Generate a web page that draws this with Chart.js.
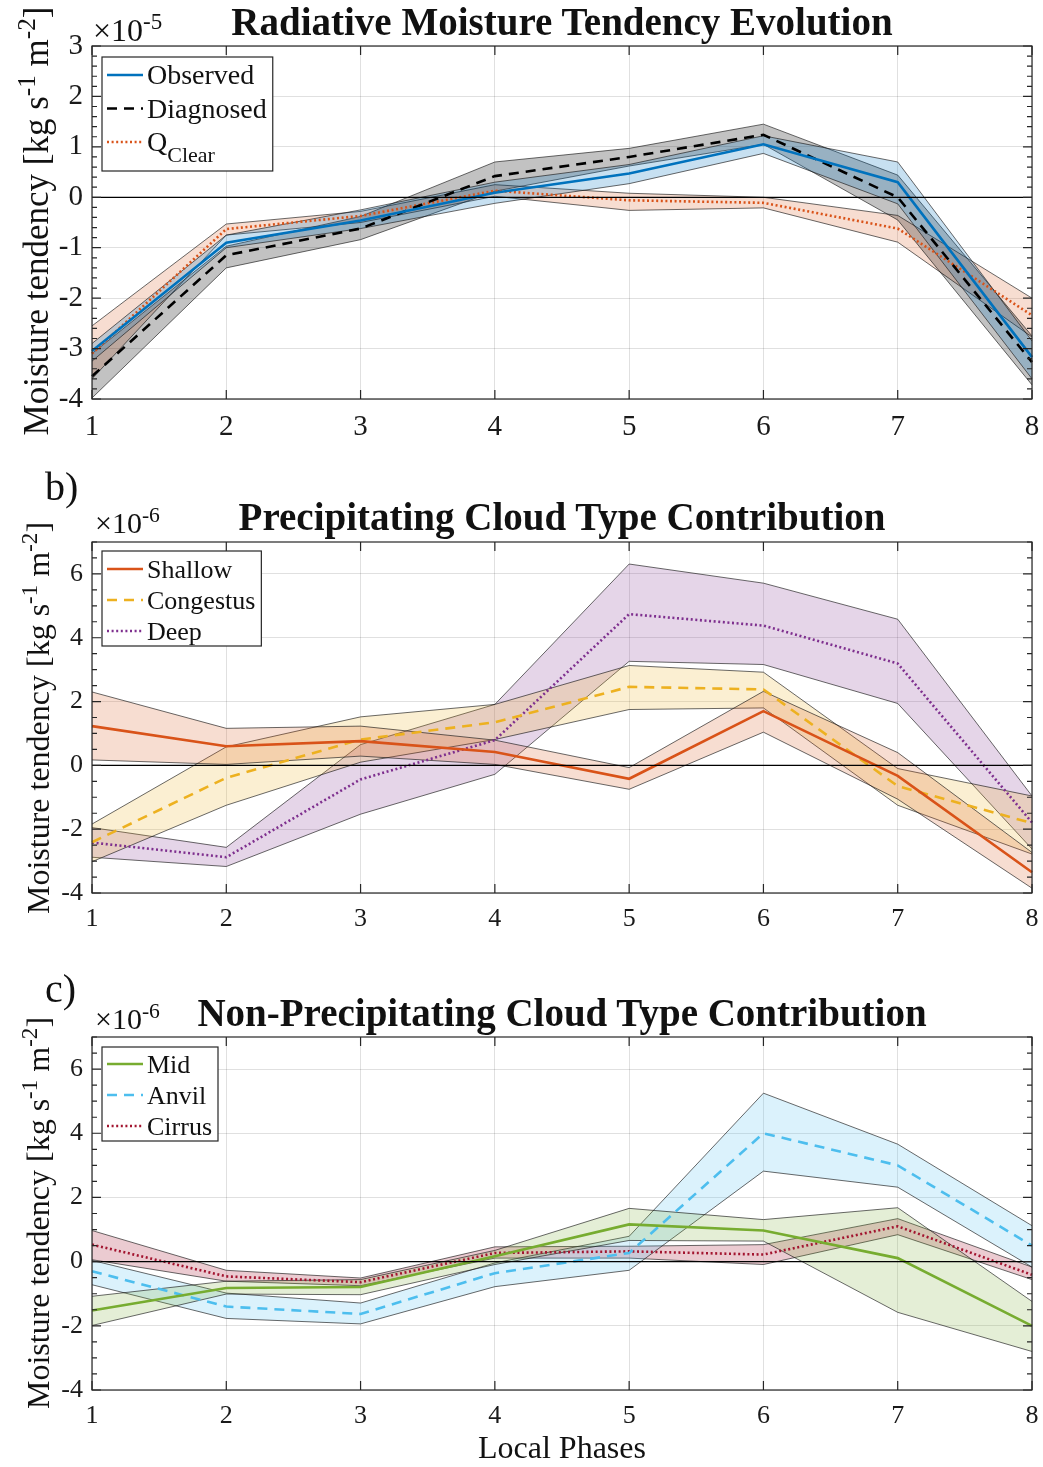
<!DOCTYPE html>
<html>
<head>
<meta charset="utf-8">
<script src="https://cdn.jsdelivr.net/npm/chart.js@4.4.1/dist/chart.umd.min.js"></script>
<style>
  html, body { margin: 0; padding: 0; background: #fff; }
  body { width: 1043px; height: 1467px; position: relative; overflow: hidden;
         font-family: 'Liberation Serif', 'Times New Roman', serif; color: #111; }
  canvas { position: absolute; left: 0; }
  .txt { position: absolute; white-space: nowrap; line-height: 1; }
  .title { font-weight: bold; font-size: 39px; transform: translateX(-50%); }
  .ylab { transform: translate(-50%, -50%) rotate(-90deg); }
  sup { font-size: 0.72em; vertical-align: 0.5em; line-height: 0; }
</style>
</head>
<body>
<canvas id="chartA" width="1043" height="460" style="top:0px"></canvas>
<canvas id="chartB" width="1043" height="440" style="top:500px"></canvas>
<canvas id="chartC" width="1043" height="445" style="top:995px"></canvas>

<div class="txt title" style="left:562px; top:2px">Radiative Moisture Tendency Evolution</div>
<div class="txt title" style="left:562px; top:497px">Precipitating Cloud Type Contribution</div>
<div class="txt title" style="left:562px; top:993px">Non-Precipitating Cloud Type Contribution</div>

<div class="txt ylab" style="left:36px; top:221px; font-size:35px">Moisture tendency [kg s<sup>-1</sup> m<sup>-2</sup>]</div>
<div class="txt ylab" style="left:38px; top:718px; font-size:32px">Moisture tendency [kg s<sup>-1</sup> m<sup>-2</sup>]</div>
<div class="txt ylab" style="left:38px; top:1213px; font-size:32px">Moisture tendency [kg s<sup>-1</sup> m<sup>-2</sup>]</div>

<div class="txt" style="left:93px; top:14px; font-size:32px">&times;10<sup>-5</sup></div>
<div class="txt" style="left:95px; top:508px; font-size:30px">&times;10<sup>-6</sup></div>
<div class="txt" style="left:95px; top:1004px; font-size:30px">&times;10<sup>-6</sup></div>

<div class="txt" style="left:45px; top:467px; font-size:40px">b)</div>
<div class="txt" style="left:45px; top:969px; font-size:40px">c)</div>

<div class="txt" style="left:562px; top:1431px; font-size:32px; transform:translateX(-50%)">Local Phases</div>

<script>
// x axis: local phases
const phases = [1, 2, 3, 4, 5, 6, 7, 8];

// a) radiative moisture tendency (x1e-5)
const namesA = ['Observed', 'Diagnosed', 'Q_Clear'];
const observed     = [-3.05, -0.90, -0.46,  0.09,  0.47,  1.05,  0.30, -3.17];
const observedLo   = [-3.25, -1.00, -0.62, -0.12,  0.27,  0.87, -0.13, -3.60];
const observedHi   = [-2.90, -0.75, -0.25,  0.30,  0.65,  1.22,  0.70, -2.85];
const diagnosed    = [-3.55, -1.15, -0.62,  0.42,  0.80,  1.24,  0.00, -3.27];
const diagnosedLo  = [-3.98, -1.40, -0.84,  0.12,  0.62,  1.05, -0.45, -3.72];
const diagnosedHi  = [-3.10, -0.97, -0.38,  0.70,  0.97,  1.45,  0.44, -2.75];
const qClear       = [-3.10, -0.63, -0.37,  0.13, -0.06, -0.11, -0.62, -2.34];
const qClearLo     = [-3.60, -0.75, -0.50,  0.02, -0.26, -0.21, -0.89, -2.77];
const qClearHi     = [-2.55, -0.53, -0.28,  0.25,  0.08,  0.00, -0.36, -2.00];
const yTicksA = [-4, -3, -2, -1, 0, 1, 2, 3];

// b) precipitating cloud types (x1e-6)
const namesB = ['Shallow', 'Congestus', 'Deep'];
const shallow      = [ 1.23,  0.60,  0.76,  0.42, -0.42,  1.70, -0.33, -3.35];
const shallowLo    = [ 0.17,  0.03,  0.29,  0.03, -0.75,  1.04, -1.06, -3.85];
const shallowHi    = [ 2.30,  1.16,  1.23,  0.79, -0.07,  2.32,  0.40, -2.73];
const congestus    = [-2.41, -0.39,  0.81,  1.35,  2.46,  2.38, -0.65, -1.81];
const congestusLo  = [-3.02, -1.25,  0.10,  0.81,  1.75,  1.80, -1.25, -2.78];
const congestusHi  = [-1.84,  0.58,  1.52,  1.91,  3.13,  2.92, -0.10, -0.96];
const deep         = [-2.42, -2.88, -0.44,  0.79,  4.74,  4.38,  3.19, -1.79];
const deepLo       = [-2.88, -3.17, -1.53, -0.28,  3.26,  3.16,  1.94, -2.62];
const deepHi       = [-1.95, -2.57,  0.65,  1.91,  6.31,  5.71,  4.58, -0.96];

// c) non-precipitating cloud types (x1e-6)
const namesC = ['Mid', 'Anvil', 'Cirrus'];
const mid          = [-1.52, -0.82, -0.79,  0.17,  1.16,  0.97,  0.11, -2.00];
const midLo        = [-1.99, -1.01, -1.03, -0.09,  0.66,  0.64, -1.58, -2.80];
const midHi        = [-1.08, -0.61, -0.56,  0.35,  1.66,  1.31,  1.68, -1.24];
const anvil        = [-0.30, -1.40, -1.63, -0.36,  0.27,  4.00,  3.00,  0.50];
const anvilLo      = [-0.72, -1.77, -1.94, -0.78, -0.27,  2.82,  2.32, -0.17];
const anvilHi      = [ 0.04, -0.98, -1.29, -0.04,  0.79,  5.25,  3.66,  1.12];
const cirrus       = [ 0.53, -0.46, -0.64,  0.27,  0.32,  0.22,  1.10, -0.41];
const cirrusLo     = [ 0.06, -0.61, -0.75,  0.11,  0.11, -0.09,  0.84, -0.56];
const cirrusHi     = [ 0.97, -0.27, -0.51,  0.46,  0.48,  0.53,  1.34, -0.17];
const yTicksBC = [-4, -2, 0, 2, 4, 6];

const SERIF = "'Liberation Serif', 'Times New Roman', serif";
const EDGE = 'rgba(20,20,20,0.8)';
const SOLID = [], DASHED = [10, 7], DOTTED = [2, 2.6];

Chart.defaults.color = '#1a1a1a';
Chart.defaults.font.family = SERIF;

// inner ticks, minor ticks, zero line and the axes box
const axesDeco = {
  id: 'axesDeco',
  afterDatasetsDraw(chart, args, opts) {
    const { ctx, chartArea: area } = chart;
    const xs = chart.scales.x, ys = chart.scales.y;
    ctx.save();
    const yz = ys.getPixelForValue(0);
    ctx.strokeStyle = '#000';
    ctx.lineWidth = 1.3;
    ctx.beginPath();
    ctx.moveTo(area.left, yz);
    ctx.lineTo(area.right, yz);
    ctx.stroke();

    ctx.strokeStyle = '#262626';
    ctx.lineWidth = 1.2;
    ctx.beginPath();
    xs.ticks.forEach((t, i) => {
      const px = xs.getPixelForTick(i);
      ctx.moveTo(px, area.bottom); ctx.lineTo(px, area.bottom - opts.major);
      ctx.moveTo(px, area.top); ctx.lineTo(px, area.top + opts.major);
    });
    ys.ticks.forEach(t => {
      const py = ys.getPixelForValue(t.value);
      ctx.moveTo(area.left, py); ctx.lineTo(area.left + opts.major, py);
      ctx.moveTo(area.right, py); ctx.lineTo(area.right - opts.major, py);
    });
    const n = Math.round((ys.max - ys.min) / opts.minorStep);
    for (let k = 0; k <= n; k++) {
      const py = ys.getPixelForValue(ys.min + k * opts.minorStep);
      ctx.moveTo(area.left, py); ctx.lineTo(area.left + opts.minor, py);
      ctx.moveTo(area.right, py); ctx.lineTo(area.right - opts.minor, py);
    }
    ctx.stroke();
    ctx.strokeRect(area.left, area.top, area.right - area.left, area.bottom - area.top);
    ctx.restore();
  }
};

// boxed legend, upper left, with line samples
const boxLegend = {
  id: 'boxLegend',
  afterDraw(chart, args, opts) {
    const { ctx, chartArea: area } = chart;
    const items = chart.data.datasets.filter(d => d.label);
    const subSize = Math.round(opts.size * 0.78);
    const mainFont = `${opts.size}px ${SERIF}`, subFont = `${subSize}px ${SERIF}`;
    ctx.save();
    const widths = items.map(d => {
      const [main, sub] = d.label.split('_');
      ctx.font = mainFont;
      let w = ctx.measureText(main).width;
      if (sub) { ctx.font = subFont; w += ctx.measureText(sub).width; }
      return w;
    });
    const x0 = area.left + opts.dx, y0 = area.top + opts.dy;
    const w = 45 + Math.max(...widths) + 6;
    ctx.fillStyle = '#fff';
    ctx.fillRect(x0, y0, w, opts.boxH);
    ctx.strokeStyle = '#262626';
    ctx.lineWidth = 1.2;
    ctx.strokeRect(x0, y0, w, opts.boxH);
    items.forEach((d, i) => {
      const cy = y0 + opts.first + i * opts.rowH;
      ctx.strokeStyle = d.borderColor;
      ctx.lineWidth = d.borderWidth;
      ctx.setLineDash(d.borderDash);
      ctx.beginPath();
      ctx.moveTo(x0 + 5, cy);
      ctx.lineTo(x0 + 41, cy);
      ctx.stroke();
      ctx.setLineDash([]);
      const [main, sub] = d.label.split('_');
      ctx.fillStyle = '#111';
      ctx.textBaseline = 'alphabetic';
      ctx.font = mainFont;
      const base = cy + opts.size * 0.33;
      ctx.fillText(main, x0 + 45, base);
      if (sub) {
        const mw = ctx.measureText(main).width;
        ctx.font = subFont;
        ctx.fillText(sub, x0 + 45 + mw, base + opts.size * 0.4);
      }
    });
    ctx.restore();
  }
};

function makePanel(id, p) {
  const canvas = document.getElementById(id);
  const top = parseFloat(canvas.style.top);
  const datasets = [];
  p.series.forEach(s => {
    datasets.push({ data: s.lo, borderColor: EDGE, borderWidth: 0.8, pointRadius: 0, fill: false, order: 1 });
    datasets.push({ data: s.hi, borderColor: EDGE, borderWidth: 0.8, pointRadius: 0, fill: '-1',
                    backgroundColor: s.band, order: 1 });
  });
  p.series.forEach(s => {
    datasets.push({ label: s.name, data: s.mean, borderColor: s.color, borderWidth: 2.6,
                    borderDash: s.dash, pointRadius: 0, fill: false, order: 0 });
  });

  new Chart(canvas, {
    type: 'line',
    data: { labels: phases, datasets },
    plugins: [axesDeco, boxLegend],
    options: {
      responsive: false,
      animation: false,
      devicePixelRatio: 1,
      layout: { padding: { top: p.plotTop - top, right: 11, left: 0, bottom: 0 } },
      plugins: {
        legend: { display: false },
        tooltip: { enabled: false },
        axesDeco: { major: 9, minor: 5, minorStep: p.minorStep },
        boxLegend: p.legend
      },
      scales: {
        x: {
          type: 'category',
          grid: { color: 'rgba(0,0,0,0.12)', drawTicks: false },
          border: { display: false },
          ticks: { font: { size: p.tickSize }, padding: 11, maxRotation: 0, autoSkip: false },
          afterFit: s => {
            s.height = top + canvas.height - p.plotBottom;
            s.paddingLeft = 0;
            s.paddingRight = 0;
          }
        },
        y: {
          min: p.yMin, max: p.yMax,
          grid: { color: 'rgba(0,0,0,0.12)', drawTicks: false },
          border: { display: false },
          ticks: { font: { size: p.tickSize }, padding: 9 },
          afterBuildTicks: s => { s.ticks = p.yTicks.map(v => ({ value: v })); },
          afterFit: s => { s.width = 92; }
        }
      }
    }
  });
}

makePanel('chartA', {
  plotTop: 46, plotBottom: 399, yMin: -4, yMax: 3, yTicks: yTicksA, minorStep: 0.2, tickSize: 29,
  legend: { size: 28, dx: 10, dy: 11, first: 18, rowH: 33.5, boxH: 114 },
  series: [
    { name: namesA[0], mean: observed,  lo: observedLo,  hi: observedHi,  color: '#0072BD', band: 'rgba(0,114,189,0.22)', dash: SOLID },
    { name: namesA[1], mean: diagnosed, lo: diagnosedLo, hi: diagnosedHi, color: '#000000', band: 'rgba(0,0,0,0.24)',     dash: DASHED },
    { name: namesA[2], mean: qClear,    lo: qClearLo,    hi: qClearHi,    color: '#D95319', band: 'rgba(217,83,25,0.2)',  dash: DOTTED }
  ]
});

makePanel('chartB', {
  plotTop: 542, plotBottom: 893, yMin: -4, yMax: 7, yTicks: yTicksBC, minorStep: 0.5, tickSize: 26,
  legend: { size: 26, dx: 10, dy: 9, first: 18, rowH: 31, boxH: 95 },
  series: [
    { name: namesB[0], mean: shallow,   lo: shallowLo,   hi: shallowHi,   color: '#D95319', band: 'rgba(217,83,25,0.2)',  dash: SOLID },
    { name: namesB[1], mean: congestus, lo: congestusLo, hi: congestusHi, color: '#EDB120', band: 'rgba(237,177,32,0.2)', dash: DASHED },
    { name: namesB[2], mean: deep,      lo: deepLo,      hi: deepHi,      color: '#7E2F8E', band: 'rgba(126,47,142,0.2)', dash: DOTTED }
  ]
});

makePanel('chartC', {
  plotTop: 1037, plotBottom: 1390, yMin: -4, yMax: 7, yTicks: yTicksBC, minorStep: 0.5, tickSize: 26,
  legend: { size: 26, dx: 10, dy: 10, first: 17, rowH: 31, boxH: 94 },
  series: [
    { name: namesC[0], mean: mid,    lo: midLo,    hi: midHi,    color: '#77AC30', band: 'rgba(119,172,48,0.2)', dash: SOLID },
    { name: namesC[1], mean: anvil,  lo: anvilLo,  hi: anvilHi,  color: '#4DBEEE', band: 'rgba(77,190,238,0.2)', dash: DASHED },
    { name: namesC[2], mean: cirrus, lo: cirrusLo, hi: cirrusHi, color: '#A2142F', band: 'rgba(162,20,47,0.22)', dash: DOTTED }
  ]
});
</script>
</body>
</html>
